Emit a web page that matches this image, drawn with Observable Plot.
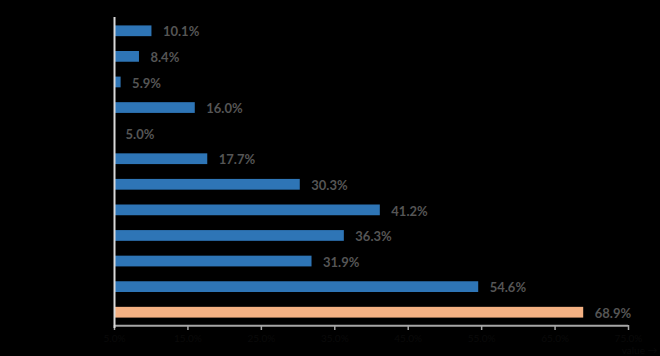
<!DOCTYPE html>
<html>
<head>
<meta charset="utf-8">
<script src="https://cdn.jsdelivr.net/npm/d3@7"></script>
<script src="https://cdn.jsdelivr.net/npm/@observablehq/plot@0.6"></script>
<style>
  html, body { margin: 0; padding: 0; background: #000; }
  #chart { width: 660px; height: 356px; }
</style>
</head>
<body>
<div id="chart"></div>
<script>
const categories = ["Item 1","Item 2","Item 3","Item 4","Item 5","Item 6","Item 7","Item 8","Item 9","Item 10","Item 11","Item 12"];
const values = [10.1, 8.4, 5.9, 16.0, 5.0, 17.7, 30.3, 41.2, 36.3, 31.9, 54.6, 68.9];
const highlight = [false,false,false,false,false,false,false,false,false,false,false,true];
const xTicks = [5, 15, 25, 35, 45, 55, 65, 75];
const axisMin = 5, axisMax = 75;

const data = categories.map((c, i) => ({cat: c, value: values[i], hl: highlight[i]}));

const chart = Plot.plot({
  width: 660,
  height: 356,
  marginLeft: 114,
  marginRight: 32,
  marginTop: 18,
  marginBottom: 31,
  style: {background: "#000", fontFamily: "Lato, sans-serif"},
  x: {domain: [axisMin, axisMax], ticks: xTicks, axis: null},
  y: {domain: categories, paddingInner: 0.58, paddingOuter: 0.29, round: false, axis: null},
  marks: [
    Plot.barX(data, {
      x1: () => axisMin, x2: "value", y: "cat",
      fill: d => d.hl ? "#f4b183" : "#2e75b6"
    }),
    Plot.text(data, {
      x: "value", y: "cat", text: d => d.value.toFixed(1) + "%",
      textAnchor: "start", dx: 11, dy: 1,
      fill: "#555555", fontSize: 13, fontWeight: 700
    }),
    Plot.axisY({tickSize: 0, fill: "#000", fontSize: 11}),
    Plot.axisX({ticks: xTicks, tickSize: 5, stroke: "#a6a6a6", strokeWidth: 1.5,
      tickFormat: d => d.toFixed(1) + "%", fill: "#0a0a0a", fontSize: 10, tickPadding: 4}),
    Plot.ruleY([axisMin], {x1: axisMin, x2: axisMax, y: () => categories[categories.length - 1], dy: 13, stroke: "#a6a6a6", strokeWidth: 2}),
    Plot.ruleX([axisMin], {insetTop: -1, insetBottom: -3, stroke: "#d9d9d9", strokeWidth: 2})
  ]
});
document.getElementById("chart").appendChild(chart);
</script>
</body>
</html>
